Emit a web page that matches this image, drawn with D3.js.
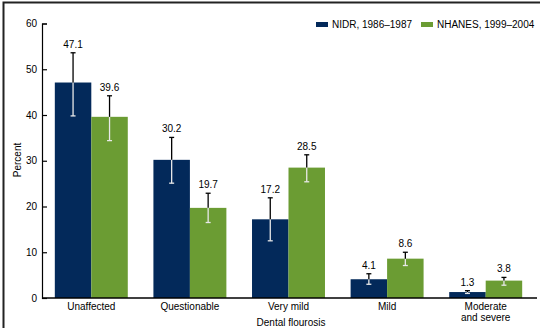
<!DOCTYPE html>
<html>
<head>
<meta charset="utf-8">
<script src="https://cdn.jsdelivr.net/npm/d3@7"></script>
<style>
  body { margin: 0; background: #fff; }
  text { font-family: "Liberation Sans", Arial, sans-serif; fill: #000; }
</style>
</head>
<body>
<svg id="chart" width="540" height="328"></svg>
<script>
// data
const categories = ["Unaffected", "Questionable", "Very mild", "Mild", "Moderate\nand severe"];
const seriesNames = ["NIDR, 1986\u20131987", "NHANES, 1999\u20132004"];
const nidr   = [47.1, 30.2, 17.2, 4.1, 1.3];
const nhanes = [39.6, 19.7, 28.5, 8.6, 3.8];
const nidrLow   = [39.8, 25.1, 12.5, 3.0, 1.0];
const nidrHigh  = [53.6, 35.1, 21.9, 5.3, 1.6];
const nhanesLow  = [34.4, 16.5, 25.4, 7.1, 2.8];
const nhanesHigh = [44.2, 22.9, 31.3, 10.0, 4.5];
const yTicks = [0, 10, 20, 30, 40, 50, 60];

const colors = ["#03295a", "#6b9c33"];

const svg = d3.select("#chart");

// frame
svg.append("rect")
    .attr("x", 3.5).attr("y", 2.5)
    .attr("width", 560).attr("height", 340)
    .attr("fill", "none")
    .attr("stroke", "#222")
    .attr("stroke-width", 2);

const x0 = 42, x1 = 535;
const y = d3.scaleLinear().domain([0, 60]).range([298, 23.5]);

const x = d3.scaleBand()
    .domain(categories)
    .range([x0, x1])
    .paddingInner(0.26)
    .paddingOuter(0.13);

const xs = d3.scaleBand()
    .domain([0, 1])
    .range([0, x.bandwidth()]);

const rows = categories.map((c, i) => [
    { cat: c, s: 0, v: nidr[i], lo: nidrLow[i], hi: nidrHigh[i] },
    { cat: c, s: 1, v: nhanes[i], lo: nhanesLow[i], hi: nhanesHigh[i] }
]).flat();

// y axis
const yAxis = d3.axisLeft(y)
    .tickValues(yTicks)
    .tickSize(-5)
    .tickPadding(5);

const gy = svg.append("g")
    .attr("transform", `translate(${x0},0)`)
    .call(yAxis);
gy.select(".domain").attr("stroke", "#000").attr("stroke-width", 1.2);
gy.selectAll(".tick line").attr("stroke", "#000").attr("stroke-width", 1.2);
gy.selectAll(".tick text").attr("font-size", 10).attr("fill", "#000");

svg.append("text")
    .attr("transform", `translate(21,160) rotate(-90)`)
    .attr("text-anchor", "middle")
    .attr("font-size", 10)
    .text("Percent");

// bars
const bars = svg.append("g");
bars.selectAll("rect")
    .data(rows)
    .enter()
    .append("rect")
    .attr("x", d => x(d.cat) + xs(d.s))
    .attr("y", d => y(d.v))
    .attr("width", xs.bandwidth())
    .attr("height", d => y(0) - y(d.v))
    .attr("fill", d => colors[d.s]);

// error bars: white inside the bar, black above it
const err = svg.append("g");
rows.forEach(d => {
    const cx = x(d.cat) + xs(d.s) + xs.bandwidth() / 2;
    const top = y(d.v);
    // part inside the bar
    err.append("line")
        .attr("x1", cx).attr("x2", cx)
        .attr("y1", top).attr("y2", y(d.lo))
        .attr("stroke", "#e8e8e8").attr("stroke-width", 1.3);
    err.append("line")
        .attr("x1", cx - 2.5).attr("x2", cx + 2.5)
        .attr("y1", y(d.lo)).attr("y2", y(d.lo))
        .attr("stroke", "#e8e8e8").attr("stroke-width", 1.3);
    // part above the bar
    err.append("line")
        .attr("x1", cx).attr("x2", cx)
        .attr("y1", y(d.hi)).attr("y2", top)
        .attr("stroke", "#000").attr("stroke-width", 1.3);
    err.append("line")
        .attr("x1", cx - 2.5).attr("x2", cx + 2.5)
        .attr("y1", y(d.hi)).attr("y2", y(d.hi))
        .attr("stroke", "#000").attr("stroke-width", 1.3);
});

// value labels
svg.append("g").selectAll("text")
    .data(rows)
    .enter()
    .append("text")
    .attr("x", d => x(d.cat) + xs(d.s) + xs.bandwidth() / 2)
    .attr("y", d => y(d.hi) - 5)
    .attr("text-anchor", "middle")
    .attr("font-size", 10)
    .text(d => d.v.toFixed(1));

// x axis
svg.append("line")
    .attr("x1", x0).attr("x2", 537)
    .attr("y1", y(0)).attr("y2", y(0))
    .attr("stroke", "#000").attr("stroke-width", 1.5);

const xl = svg.append("g").selectAll("text")
    .data(categories)
    .enter()
    .append("text")
    .attr("x", d => x(d) + x.bandwidth() / 2)
    .attr("y", 310)
    .attr("text-anchor", "middle")
    .attr("font-size", 10);
xl.each(function(d) {
    const t = d3.select(this);
    d.split("\n").forEach((line, i) => {
        t.append("tspan")
            .attr("x", t.attr("x"))
            .attr("dy", i === 0 ? 0 : 11)
            .text(line);
    });
});

svg.append("text")
    .attr("x", 291)
    .attr("y", 326)
    .attr("text-anchor", "middle")
    .attr("font-size", 10)
    .text("Dental flourosis");

// legend
const legendX = [316, 421];
const legend = svg.append("g");
seriesNames.forEach((name, i) => {
    legend.append("rect")
        .attr("x", legendX[i]).attr("y", 22)
        .attr("width", 12).attr("height", 5)
        .attr("fill", colors[i]);
    legend.append("text")
        .attr("x", legendX[i] + 16)
        .attr("y", 28)
        .attr("font-size", 10)
        .text(name);
});
</script>
</body>
</html>
